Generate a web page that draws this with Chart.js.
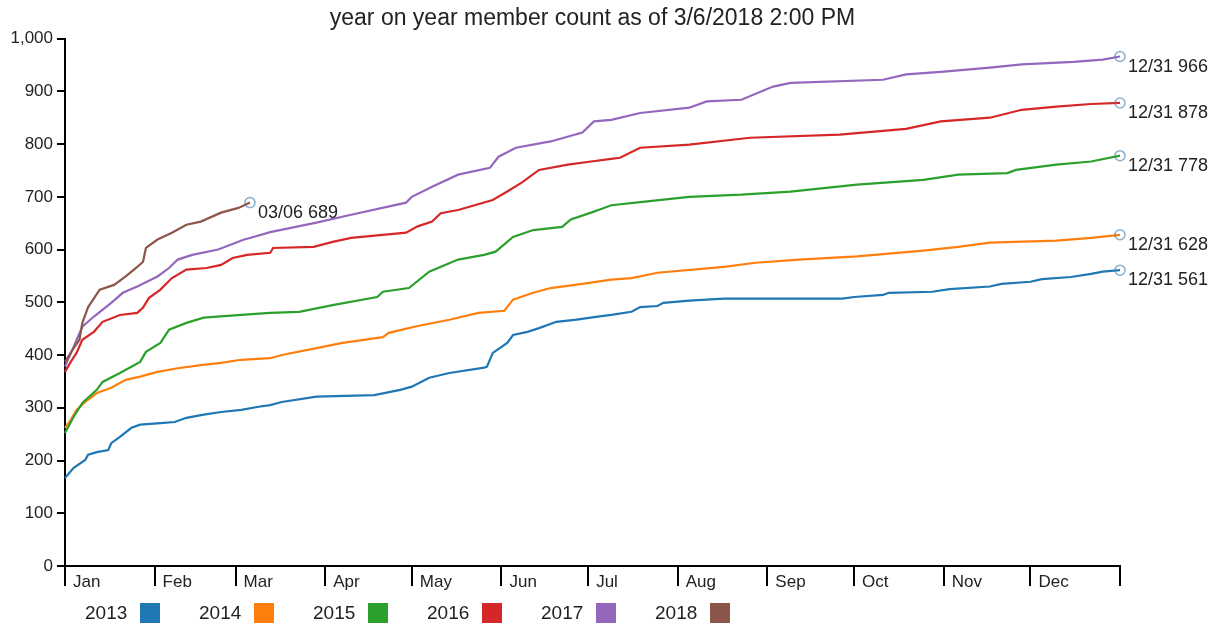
<!DOCTYPE html>
<html>
<head>
<meta charset="utf-8">
<title>year on year member count</title>
<script src="https://cdn.jsdelivr.net/npm/chart.js@4.4.0/dist/chart.umd.min.js"></script>
<style>
body { margin: 0; background: #fff; }
#wrap { position: relative; width: 1222px; height: 627px; }
#legend { position: absolute; left: 85px; top: 603px; display: flex; font: 19px "Liberation Sans", Arial, sans-serif; color: #222; }
#legend .item { width: 114px; height: 20px; display: flex; align-items: center; }
#legend .box { width: 20px; height: 20px; margin-left: 13px; }
</style>
</head>
<body>
<div id="wrap">
<canvas id="members" width="1222" height="627"></canvas>
<div id="legend"></div>
</div>
<script>
var years = ['2013', '2014', '2015', '2016', '2017', '2018'];
var colors = ['#1f77b4', '#ff7f0e', '#2ca02c', '#d62728', '#9467bd', '#8c564b'];
var endDates = ['12/31', '12/31', '12/31', '12/31', '12/31', '03/06'];

var monthStarts = [0, 31, 59, 90, 120, 151, 181, 212, 243, 273, 304, 334, 365];
var monthLabels = ['Jan', 'Feb', 'Mar', 'Apr', 'May', 'Jun', 'Jul', 'Aug', 'Sep', 'Oct', 'Nov', 'Dec', ''];

// day of year -> running member count
var days2013 = [0, 3, 7, 8, 11, 15, 16, 19, 23, 26, 33, 38, 42, 48, 54, 61, 67, 71, 75, 87, 107, 116, 120, 126, 133, 145, 146, 148, 153, 155, 160, 164, 170, 177, 183, 189, 196, 199, 205, 207, 216, 228, 269, 273, 283, 285, 300, 306, 320, 324, 334, 338, 348, 355, 359, 365];
var counts2013 = [167, 186, 201, 211, 216, 220, 233, 245, 262, 268, 271, 273, 281, 287, 292, 296, 302, 305, 311, 321, 324, 334, 340, 357, 366, 376, 378, 404, 423, 438, 444, 451, 463, 467, 472, 476, 482, 491, 493, 499, 503, 507, 507, 510, 514, 518, 520, 525, 530, 535, 539, 544, 548, 554, 558, 561];

var days2014 = [0, 2, 4, 7, 11, 16, 21, 26, 32, 39, 47, 54, 61, 71, 75, 87, 96, 110, 112, 122, 133, 143, 152, 155, 162, 168, 179, 189, 196, 205, 228, 239, 254, 274, 297, 309, 320, 343, 355, 365];
var counts2014 = [262, 277, 296, 311, 328, 338, 353, 359, 368, 375, 381, 385, 391, 394, 400, 413, 423, 434, 442, 455, 467, 480, 484, 505, 518, 527, 535, 543, 546, 556, 567, 575, 581, 587, 598, 605, 613, 617, 622, 628];

var days2015 = [0, 3, 6, 11, 13, 19, 26, 28, 33, 36, 42, 48, 61, 71, 81, 93, 108, 110, 119, 126, 136, 145, 149, 155, 162, 172, 175, 182, 185, 189, 199, 216, 234, 251, 274, 297, 309, 326, 329, 343, 355, 365];
var counts2015 = [252, 283, 309, 334, 349, 366, 387, 406, 423, 448, 461, 471, 476, 480, 482, 495, 510, 520, 527, 558, 581, 590, 596, 624, 637, 643, 657, 670, 676, 684, 690, 700, 704, 710, 723, 732, 742, 745, 751, 761, 767, 778];

var days2016 = [0, 2, 4, 6, 10, 13, 19, 25, 27, 29, 33, 37, 42, 49, 54, 58, 63, 71, 72, 86, 93, 99, 118, 122, 127, 130, 136, 148, 153, 158, 164, 174, 182, 189, 192, 199, 216, 237, 268, 291, 303, 320, 331, 343, 355, 365];
var counts2016 = [368, 387, 404, 429, 444, 463, 476, 480, 490, 508, 524, 546, 562, 565, 571, 584, 590, 594, 603, 605, 615, 622, 632, 644, 653, 669, 675, 694, 710, 727, 751, 761, 767, 772, 774, 793, 799, 812, 818, 829, 843, 850, 865, 871, 876, 878];

var days2017 = [0, 3, 6, 10, 16, 20, 25, 32, 36, 39, 44, 53, 62, 64, 71, 87, 99, 118, 120, 127, 136, 147, 150, 156, 168, 179, 183, 189, 199, 216, 222, 234, 245, 251, 283, 291, 303, 320, 331, 349, 359, 365];
var counts2017 = [378, 416, 454, 473, 499, 518, 530, 549, 565, 581, 590, 600, 619, 622, 633, 651, 666, 689, 700, 719, 742, 755, 776, 793, 805, 822, 843, 846, 859, 869, 881, 884, 909, 916, 922, 932, 937, 945, 951, 956, 960, 966];

var days2018 = [0, 3, 5, 6, 8, 12, 17, 21, 25, 27, 28, 32, 37, 42, 47, 54, 60, 64];
var counts2018 = [387, 413, 429, 461, 491, 524, 533, 549, 567, 577, 603, 619, 632, 647, 653, 670, 679, 689];

var allDays = [days2013, days2014, days2015, days2016, days2017, days2018];
var allCounts = [counts2013, counts2014, counts2015, counts2016, counts2017, counts2018];

var FONT = '"Liberation Sans", Arial, sans-serif';

var datasets = years.map(function (year, i) {
    return {
        label: year,
        data: allDays[i].map(function (d, j) { return { x: d, y: allCounts[i][j] }; }),
        borderColor: colors[i],
        borderWidth: 2.2,
        fill: false,
        tension: 0,
        clip: false,
        order: years.length - 1 - i,
        pointRadius: function (c) { return c.dataIndex === c.dataset.data.length - 1 ? 5 : 0; },
        pointBackgroundColor: 'rgba(0,0,0,0)',
        pointBorderColor: 'rgba(70,130,180,0.65)',
        pointBorderWidth: 1.5
    };
});

// "12/31 966" style text next to the last point of each line
var endLabels = {
    id: 'endLabels',
    afterDatasetsDraw: function (chart) {
        var ctx = chart.ctx;
        ctx.save();
        ctx.font = '18px ' + FONT;
        ctx.fillStyle = '#222';
        ctx.textAlign = 'left';
        ctx.textBaseline = 'alphabetic';
        chart.data.datasets.forEach(function (ds, i) {
            var meta = chart.getDatasetMeta(i);
            var pt = meta.data[meta.data.length - 1];
            var last = ds.data[ds.data.length - 1];
            ctx.fillText(endDates[i] + ' ' + last.y, pt.x + 8, pt.y + 15);
        });
        ctx.restore();
    }
};

new Chart(document.getElementById('members').getContext('2d'), {
    type: 'line',
    data: { datasets: datasets },
    plugins: [endLabels],
    options: {
        responsive: false,
        animation: false,
        events: [],
        layout: { padding: { left: 0, right: 102, top: 0, bottom: 35 } },
        plugins: {
            legend: { display: false },
            tooltip: { enabled: false },
            title: {
                display: true,
                fullSize: false,
                text: 'year on year member count as of 3/6/2018 2:00 PM',
                color: '#222',
                font: { family: FONT, size: 23, weight: 'normal' },
                padding: { top: 5, bottom: 6 }
            }
        },
        scales: {
            x: {
                type: 'linear',
                min: 0,
                max: 365,
                afterBuildTicks: function (scale) {
                    scale.ticks = monthStarts.map(function (v) { return { value: v }; });
                },
                afterFit: function (scale) { scale.height = 26; },
                border: { display: true, color: '#000', width: 2 },
                grid: { drawOnChartArea: false, drawTicks: true, tickLength: 20, color: '#000', lineWidth: 2 },
                ticks: {
                    autoSkip: false,
                    maxRotation: 0,
                    align: 'start',
                    labelOffset: 8,
                    padding: -14,
                    color: '#222',
                    font: { family: FONT, size: 17 },
                    callback: function (v, idx) { return monthLabels[idx]; }
                }
            },
            y: {
                min: 0,
                max: 1000,
                afterFit: function (scale) { scale.width = 65; },
                border: { display: true, color: '#000', width: 2 },
                grid: { drawOnChartArea: false, drawTicks: true, tickLength: 8, color: '#000', lineWidth: 2 },
                ticks: {
                    stepSize: 100,
                    padding: 4,
                    color: '#222',
                    font: { family: FONT, size: 17 }
                }
            }
        }
    }
});

var legend = document.getElementById('legend');
years.forEach(function (year, i) {
    var item = document.createElement('div');
    item.className = 'item';
    var txt = document.createElement('span');
    txt.textContent = year;
    var box = document.createElement('span');
    box.className = 'box';
    box.style.background = colors[i];
    item.appendChild(txt);
    item.appendChild(box);
    legend.appendChild(item);
});
</script>
</body>
</html>
